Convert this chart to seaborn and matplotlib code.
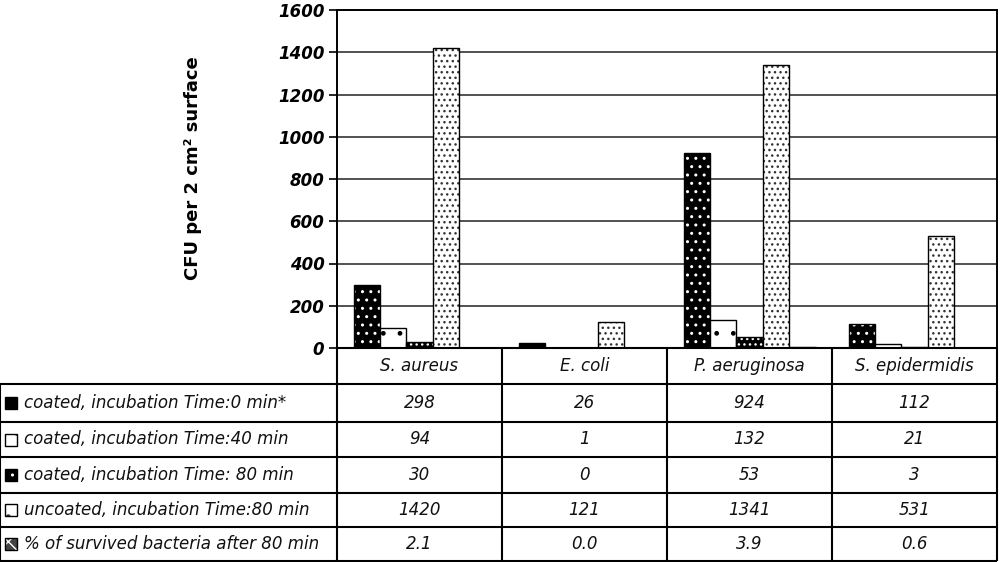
import numpy as np
import pandas as pd
import seaborn as sns
import matplotlib.pyplot as plt
import matplotlib.colors as mcolors
from matplotlib.patches import Rectangle

species = ['S. aureus', 'E. coli', 'P. aeruginosa', 'S. epidermidis']
series = ['coated, incubation Time:0 min*',
          'coated, incubation Time:40 min',
          'coated, incubation Time: 80 min',
          'uncoated, incubation Time:80 min',
          '% of survived bacteria after 80 min']
coated_0 = [298, 26, 924, 112]
coated_40 = [94, 1, 132, 21]
coated_80 = [30, 0, 53, 3]
uncoated_80 = [1420, 121, 1341, 531]
survived_pct = [2.1, 0.0, 3.9, 0.6]
yticks = [0, 200, 400, 600, 800, 1000, 1200, 1400, 1600]

values = [coated_0, coated_40, coated_80, uncoated_80, survived_pct]
labels = [[f'{v:g}' for v in coated_0], [f'{v:g}' for v in coated_40],
          [f'{v:g}' for v in coated_80], [f'{v:g}' for v in uncoated_80],
          [f'{v:.1f}' for v in survived_pct]]

df = pd.DataFrame({'species': species * 5,
                   'series': np.repeat(series, 4),
                   'value': np.concatenate(values)})

# fill / hatch / hatch colour for each series (excel-like dotted fills)
faces = ['black', 'white', 'black', 'white', '#444444']
hatches = ['..', '.', '...', '...', 'xxxx']
hatch_cols = ['white', 'black', 'white', '#333333', 'white']
icon_hatches = ['', '.', '..', '.', 'xx']

sns.set_style('white')
plt.rcParams['font.family'] = ['DejaVu Sans']
plt.rcParams['hatch.linewidth'] = 1.0

fig = plt.figure(figsize=(10, 5.62), dpi=100)
ax = fig.add_axes([0.337, 1 - 348 / 562, 0.66, 338 / 562])

sns.barplot(data=df, x='species', y='value', hue='series', hue_order=series,
            order=species, ax=ax, legend=False, width=0.8, saturation=1,
            errorbar=None)

for i, cont in enumerate(ax.containers):
    for p in cont:
        p.set_facecolor(faces[i])
        p.set_hatch(hatches[i])
        p.set_edgecolor('black')
        p.set_linewidth(1.0)
        p._hatch_color = mcolors.to_rgba(hatch_cols[i])

ax.set_ylim(0, 1600)
ax.set_xlim(-0.5, 3.5)
ax.set_yticks(yticks)
ax.set_yticklabels([str(t) for t in yticks], fontsize=12, fontweight='bold',
                   fontstyle='italic')
ax.set_xticks([])
ax.set_xlabel('')
ax.set_ylabel('')
ax.yaxis.grid(True, color='#222222', linewidth=1.1)
ax.set_axisbelow(True)
ax.tick_params(axis='y', direction='out', length=6, width=1.2, pad=3,
               left=True, colors='black')
for s in ['left', 'right', 'top', 'bottom']:
    ax.spines[s].set_visible(True)
    ax.spines[s].set_color('black')
    ax.spines[s].set_linewidth(1.4)

fig.text(0.193, 1 - 168 / 562, 'CFU per 2 cm² surface', rotation=90,
         ha='center', va='center', fontsize=13, fontweight='bold', color='black')

# data table below the plot
tab = fig.add_axes([0, 0, 0.997, 214 / 562])
tab.set_xlim(0, 997)
tab.set_ylim(214, 0)
tab.axis('off')
col_edges = [337, 502, 667, 832, 997]
row_edges = [0, 36, 74, 109, 145, 179, 213]
lw = 1.5

tab.hlines(row_edges[0], col_edges[0], col_edges[-1], color='black', lw=lw, clip_on=False)
for y in row_edges[1:]:
    tab.hlines(y, 0, col_edges[-1], color='black', lw=lw, clip_on=False)
tab.vlines(0, row_edges[1], row_edges[-1], color='black', lw=lw, clip_on=False)
for x in col_edges:
    tab.vlines(x, row_edges[0], row_edges[-1], color='black', lw=lw, clip_on=False)

for j, sp in enumerate(species):
    xc = (col_edges[j] + col_edges[j + 1]) / 2
    tab.text(xc, (row_edges[0] + row_edges[1]) / 2, sp, ha='center', va='center',
             fontsize=12, fontstyle='italic', color='#111111')

for i, name in enumerate(series):
    yc = (row_edges[i + 1] + row_edges[i + 2]) / 2
    sq = Rectangle((5, yc - 6), 12, 12, facecolor=faces[i], edgecolor='black',
                   hatch=icon_hatches[i], lw=1.0)
    tab.add_patch(sq)
    sq._hatch_color = mcolors.to_rgba(hatch_cols[i])
    tab.text(24, yc, name, ha='left', va='center', fontsize=12,
             fontstyle='italic', color='#111111')
    for j in range(len(species)):
        xc = (col_edges[j] + col_edges[j + 1]) / 2
        tab.text(xc, yc, labels[i][j], ha='center', va='center', fontsize=12,
                 fontstyle='italic', color='#111111')

fig.savefig('out.png', dpi=100)
